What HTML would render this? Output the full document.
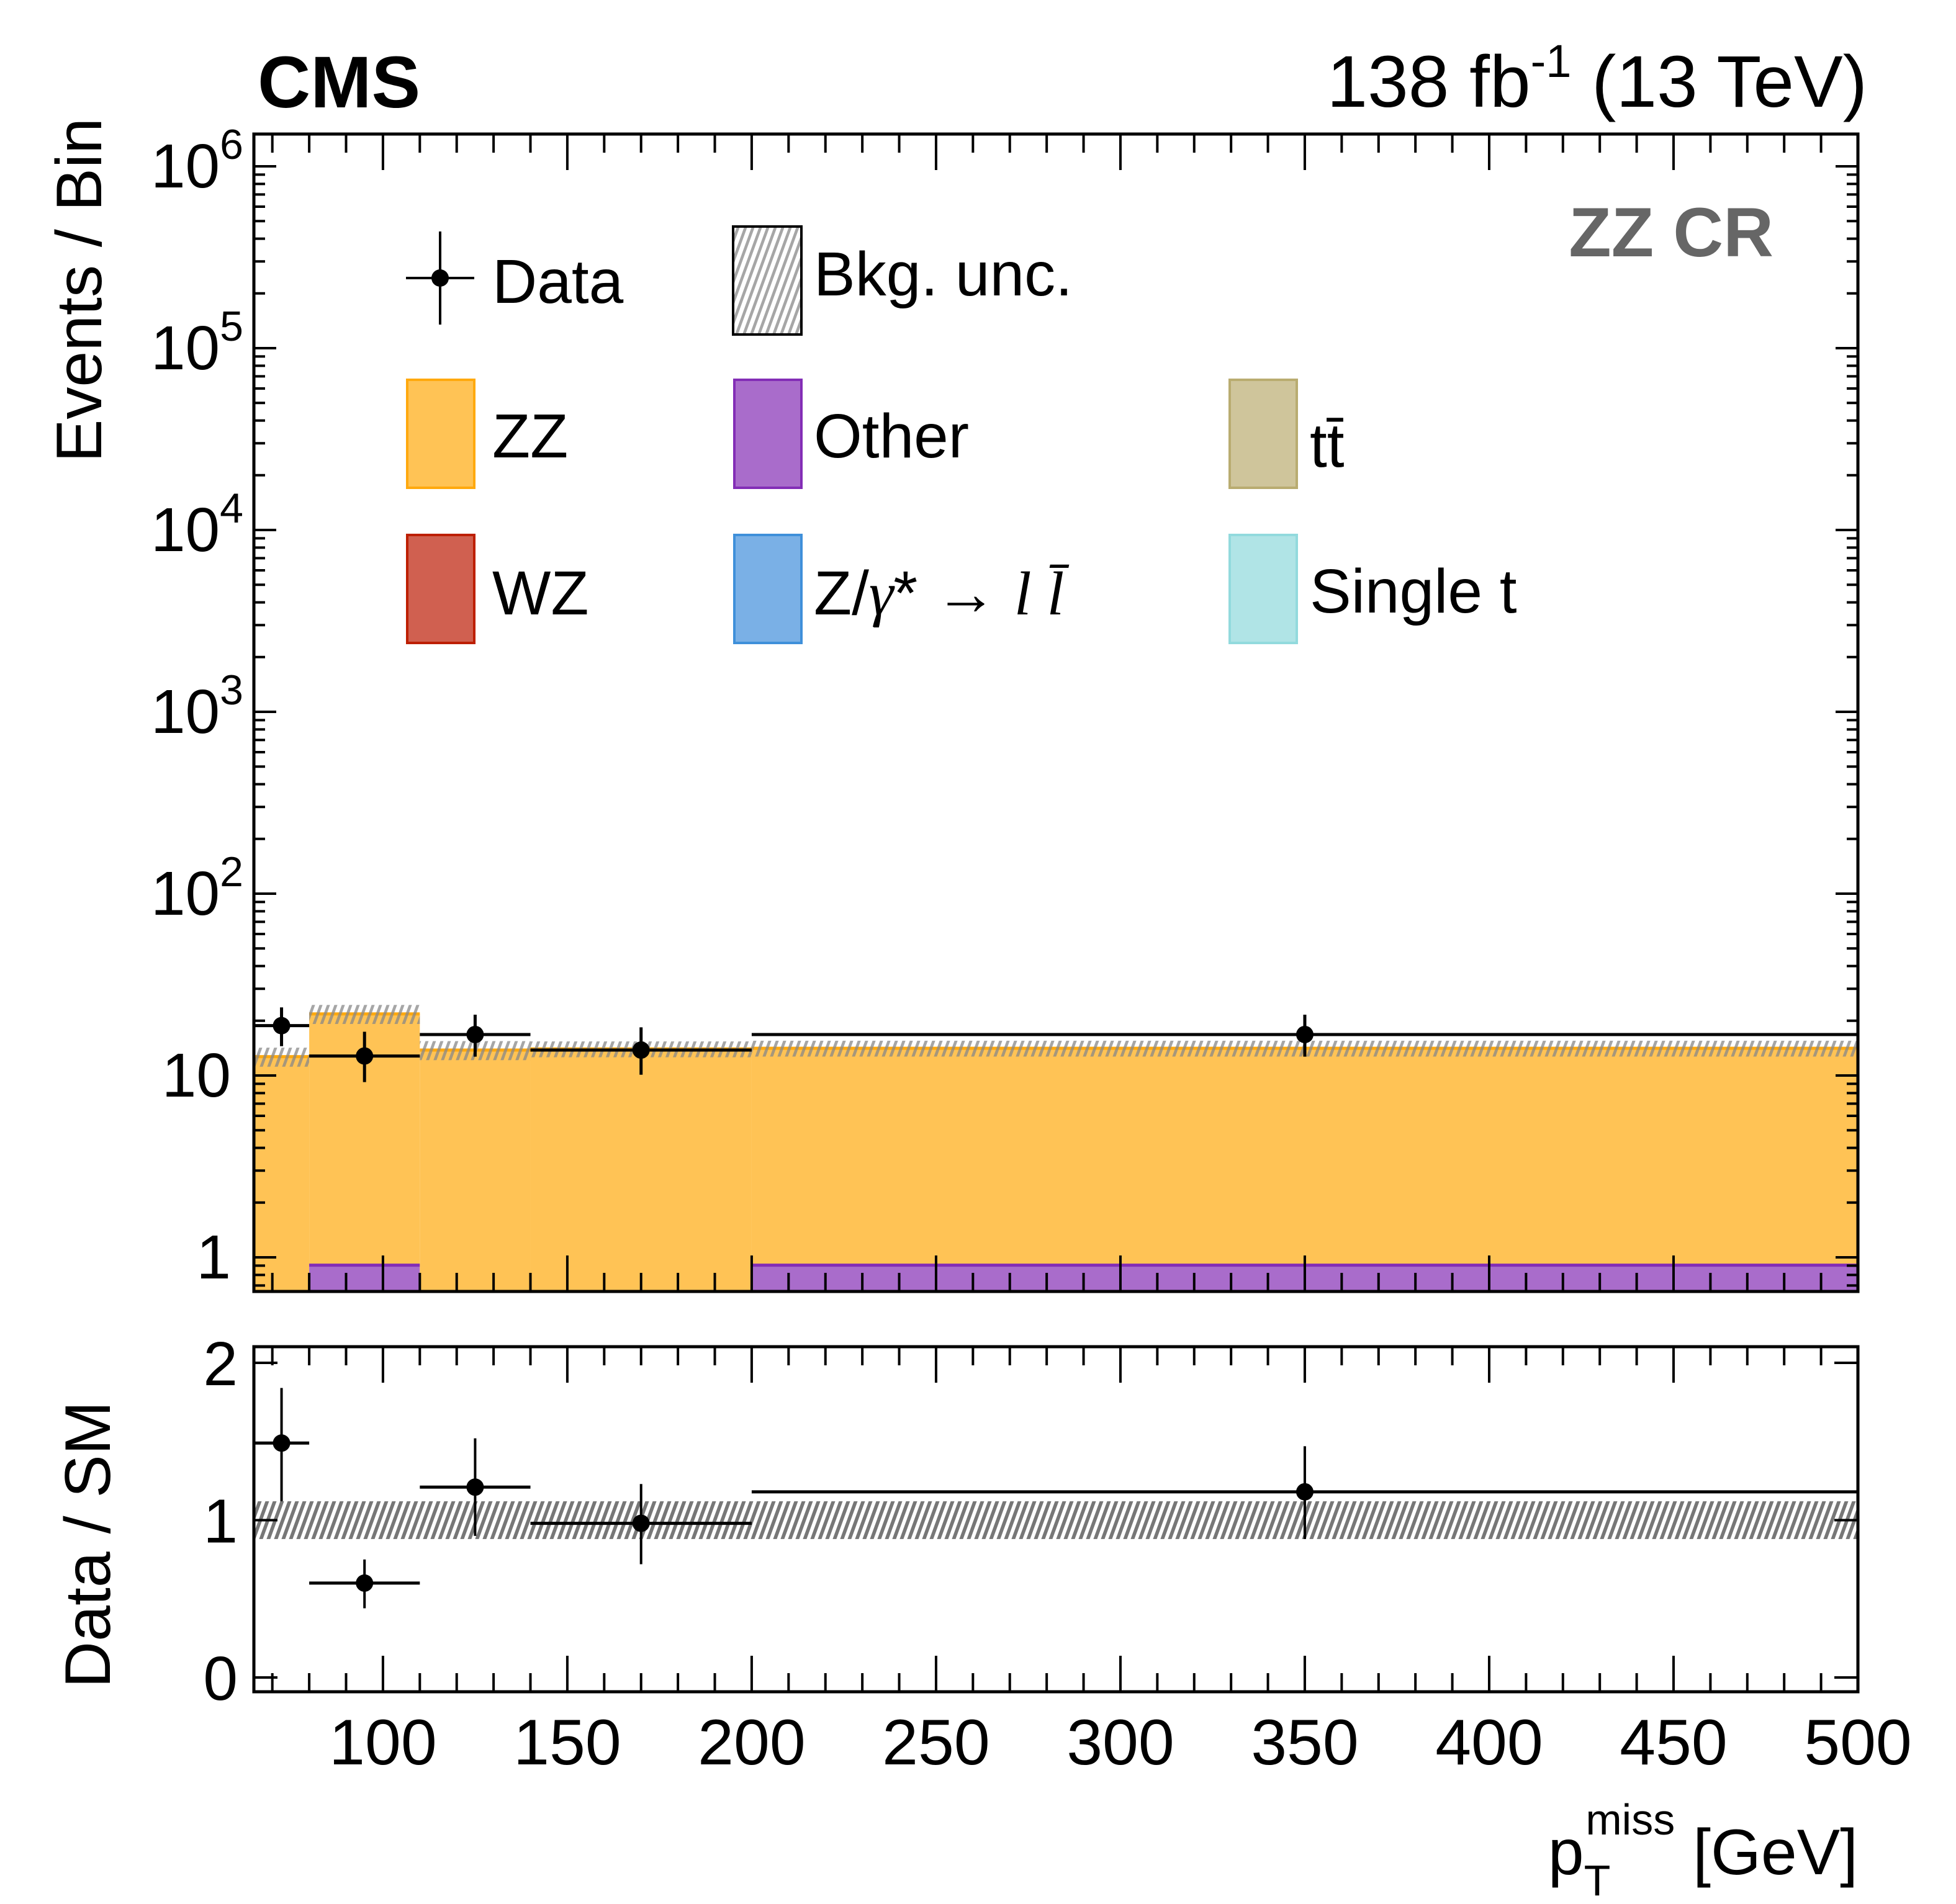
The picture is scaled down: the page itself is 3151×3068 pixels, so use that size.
<!DOCTYPE html>
<html><head><meta charset="utf-8"><style>
html,body{margin:0;padding:0;background:#fff;}
svg{display:block;font-family:"Liberation Sans",Arial,sans-serif;}
</style></head><body>
<svg id="chart" width="3151" height="3068" viewBox="0 0 3151 3068" xmlns="http://www.w3.org/2000/svg">
<defs>
<pattern id="hatch" patternUnits="userSpaceOnUse" width="12" height="40" patternTransform="skewX(-20)">
<rect x="0" y="0" width="5" height="40" fill="#888" fill-opacity="0.75"/>
</pattern>
<pattern id="hatch2" patternUnits="userSpaceOnUse" width="12" height="40" patternTransform="skewX(-20)">
<rect x="0" y="0" width="6" height="40" fill="#777"/>
</pattern>
<clipPath id="clipTop"><rect x="409" y="216" width="2584" height="1865"/></clipPath>
<clipPath id="clipBot"><rect x="409" y="2170" width="2584" height="556"/></clipPath>
</defs>
<g id="topPanel"></g>
<g id="botPanel"></g>
<text x="415" y="173" font-size="118" font-weight="bold">CMS</text>
<text x="3008" y="172" font-size="118" text-anchor="end">138 fb<tspan font-size="74" dy="-48">-1</tspan><tspan dy="48"> (13 TeV)</tspan></text>
<text x="2857" y="413" font-size="112" font-weight="bold" fill="#666" text-anchor="end">ZZ CR</text>
<text transform="translate(163,745) rotate(-90)" font-size="104">Events / Bin</text>
<text transform="translate(177,2720) rotate(-90)" font-size="104">Data / SM</text>
<text x="2993" y="3020" font-size="104" text-anchor="end">p<tspan font-size="70" dy="34">T</tspan><tspan font-size="70" dx="-40" dy="-98">miss</tspan><tspan dy="64"> [GeV]</tspan></text>
<g>
<g>
<line x1="654" y1="448" x2="764" y2="448" stroke="#000" stroke-width="4"/>
<line x1="709" y1="373" x2="709" y2="523" stroke="#000" stroke-width="4"/>
<circle cx="709" cy="448" r="14"/>
<text x="793" y="488" font-size="100">Data</text>
</g>
<g>
<rect x="1181" y="365" width="110" height="174" fill="url(#hatch)" stroke="#000" stroke-width="4"/>
<text x="1311" y="476" font-size="100">Bkg. unc.</text>
</g>
<g><rect x="656" y="612" width="108" height="174" fill="#ffc355" stroke="#ffa90e" stroke-width="4"/><text x="793" y="737" font-size="100">ZZ</text></g>
<g><rect x="1183" y="612" width="108" height="174" fill="#a96ccb" stroke="#832db6" stroke-width="4"/><text x="1311" y="737" font-size="100">Other</text></g>
<g><rect x="1981" y="612" width="108" height="174" fill="#cfc59b" stroke="#b9ac70" stroke-width="4"/><text x="2110" y="752" font-size="100">tt̄</text></g>
<g><rect x="656" y="862" width="108" height="174" fill="#d06050" stroke="#bd1f01" stroke-width="4"/><text x="793" y="990" font-size="100">WZ</text></g>
<g><rect x="1183" y="862" width="108" height="174" fill="#7ab0e6" stroke="#3f90da" stroke-width="4"/><text x="1311" y="990" font-size="100">Z/<tspan font-family="Liberation Serif" font-style="italic">γ</tspan>* → <tspan font-family="Liberation Serif" font-style="italic">l l̄</tspan></text></g>
<g><rect x="1981" y="862" width="108" height="174" fill="#b0e4e6" stroke="#92dadd" stroke-width="4"/><text x="2110" y="987" font-size="100">Single t</text></g>
</g>
</svg>
<script>
const binEdges = [65, 80, 110, 140, 200, 500];
const zzValues = [12.7, 20.9, 13.8, 14.0, 13.2];
const otherValues = [0, 0.92, 0, 0, 0.92];
const bkgUncFrac = [0.12, 0.12, 0.12, 0.1, 0.1];
const dataValues = [18.8, 12.8, 16.8, 13.8, 16.8];
const dataErrUp = [4.9, 4.6, 4.8, 4.6, 4.8];
const dataErrDn = [4.3, 3.6, 4.1, 3.7, 4.1];
const ratioValues = [1.49, 0.60, 1.21, 0.98, 1.18];
const ratioErrUp = [0.35, 0.15, 0.31, 0.25, 0.29];
const ratioErrDn = [0.37, 0.16, 0.31, 0.26, 0.30];
const ratioBandFrac = [0.12, 0.12, 0.12, 0.12, 0.12];
const xTickLabels = ["100","150","200","250","300","350","400","450","500"];
const logTickLabels = ["1","10","2","3","4","5","6"];
const ratioTickLabels = ["0","1","2"];

const NS = "http://www.w3.org/2000/svg";
const X0 = 409, X1 = 2993, XMIN = 65, XMAX = 500;
const TOPY = 216, BOTY = 2081, RTOP = 2170, RBOT = 2726;
function xs(v){ return X0 + (v - XMIN) * (X1 - X0) / (XMAX - XMIN); }
function ys(v){ return 2026 - 293 * Math.log10(v); }
function yr(v){ return 2703 - 253.5 * v; }
function mk(tag, attrs, parent){ const e = document.createElementNS(NS, tag); for (const k in attrs) e.setAttribute(k, attrs[k]); parent.appendChild(e); return e; }
const topPanel = document.getElementById('topPanel'), botPanel = document.getElementById('botPanel');
const gTop = mk('g', {'clip-path':'url(#clipTop)'}, topPanel);
const gBot = mk('g', {'clip-path':'url(#clipBot)'}, botPanel);

for (let i = 0; i < zzValues.length; i++) {
  const xa = xs(binEdges[i]), xb = xs(binEdges[i+1]);
  const oth = otherValues[i], tot = oth + zzValues[i];
  const base = oth > 0 ? ys(oth) : BOTY + 10;
  const zz = mk('rect', {x: xa, y: ys(tot), width: xb - xa, height: base - ys(tot), fill:'#ffc355'}, gTop);
  
  
  mk('line', {x1: xa, x2: xb, y1: ys(tot), y2: ys(tot), stroke:'#ffa90e', 'stroke-width':5}, gTop);
  if (oth > 0) {
    const o = mk('rect', {x: xa, y: ys(oth), width: xb - xa, height: BOTY + 10 - ys(oth), fill:'#a96ccb'}, gTop);
    
    
    mk('line', {x1: xa, x2: xb, y1: ys(oth) + 2, y2: ys(oth) + 2, stroke:'#832db6', 'stroke-width':5}, gTop);
  }
  const u = bkgUncFrac[i];
  const h = mk('rect', {x: xa, y: ys(tot * (1 + u)), width: xb - xa, height: ys(tot * (1 - u)) - ys(tot * (1 + u)), fill:'url(#hatch)'}, gTop);
  
  
  const rb = mk('rect', {x: xa, y: yr(1 + ratioBandFrac[i]), width: xb - xa, height: yr(1 - ratioBandFrac[i]) - yr(1 + ratioBandFrac[i]), fill:'url(#hatch2)'}, gBot);
  
  
}
for (let i = 0; i < dataValues.length; i++) {
  const xa = xs(binEdges[i]), xb = xs(binEdges[i+1]), xc = xs((binEdges[i] + binEdges[i+1]) / 2);
  const g = mk('g', {}, gTop);
  
  
  const y = ys(dataValues[i]);
  mk('line', {x1: xa, x2: xb, y1: y, y2: y, stroke:'#000', 'stroke-width':5}, g);
  mk('line', {x1: xc, x2: xc, y1: ys(dataValues[i] + dataErrUp[i]), y2: ys(dataValues[i] - dataErrDn[i]), stroke:'#000', 'stroke-width':5}, g);
  mk('circle', {cx: xc, cy: y, r: 14}, g);
  const r = mk('g', {}, gBot);
  
  
  const yy = yr(ratioValues[i]);
  mk('line', {x1: xa, x2: xb, y1: yy, y2: yy, stroke:'#000', 'stroke-width':5}, r);
  mk('line', {x1: xc, x2: xc, y1: yr(ratioValues[i] + ratioErrUp[i]), y2: yr(ratioValues[i] - ratioErrDn[i]), stroke:'#000', 'stroke-width':4}, r);
  mk('circle', {cx: xc, cy: yy, r: 14}, r);
}
function frame(parent, t, b, name){
  const f = mk('rect', {x: X0, y: t, width: X1 - X0, height: b - t, fill:'none', stroke:'#000', 'stroke-width':5}, parent);
  
  
  for (let v = 70; v <= 500; v += 10) {
    const x = xs(v), L = (v % 50 === 0) ? 58 : 30;
    mk('line', {x1: x, x2: x, y1: t, y2: t + L, stroke:'#000', 'stroke-width':4}, parent);
    mk('line', {x1: x, x2: x, y1: b, y2: b - L, stroke:'#000', 'stroke-width':4}, parent);
  }
}
frame(topPanel, TOPY, BOTY, 'main-frame');
frame(botPanel, RTOP, RBOT, 'ratio-frame');
for (let d = -1; d <= 6; d++) {
  for (let m = 1; m <= 9; m++) {
    const v = m * Math.pow(10, d), y = ys(v);
    if (y < TOPY || y > BOTY) continue;
    const L = m === 1 ? 36 : 18;
    mk('line', {x1: X0, x2: X0 + L, y1: y, y2: y, stroke:'#000', 'stroke-width':4}, topPanel);
    mk('line', {x1: X1, x2: X1 - L, y1: y, y2: y, stroke:'#000', 'stroke-width':4}, topPanel);
  }
}
const ax = document.getElementById('chart');
for (let d = 0; d <= 6; d++) {
  const y = ys(Math.pow(10, d));
  const t = mk('text', {x: 372, y: y + 34, 'font-size': 100, 'text-anchor': 'end'}, ax);
  
  
  if (d === 0) t.textContent = logTickLabels[0];
  else if (d === 1) t.textContent = logTickLabels[1];
  else { t.setAttribute('x', 392); t.textContent = '10'; const s = mk('tspan', {'font-size': 68, dy: -46}, t); s.textContent = logTickLabels[d]; }
}
for (let i = 0; i < ratioTickLabels.length; i++) {
  const v = parseFloat(ratioTickLabels[i]), y = yr(v);
  mk('line', {x1: X0, x2: X0 + 38, y1: y, y2: y, stroke:'#000', 'stroke-width':4}, botPanel);
  mk('line', {x1: X1, x2: X1 - 38, y1: y, y2: y, stroke:'#000', 'stroke-width':4}, botPanel);
  const t = mk('text', {x: 383, y: y + 36, 'font-size': 100, 'text-anchor': 'end'}, ax);
  
  
  t.textContent = ratioTickLabels[i];
}
for (let i = 0; i < xTickLabels.length; i++) {
  const t = mk('text', {x: xs(parseFloat(xTickLabels[i])), y: 2843, 'font-size': 104, 'text-anchor': 'middle'}, ax);
  
  
  t.textContent = xTickLabels[i];
}
</script>
</body></html>
